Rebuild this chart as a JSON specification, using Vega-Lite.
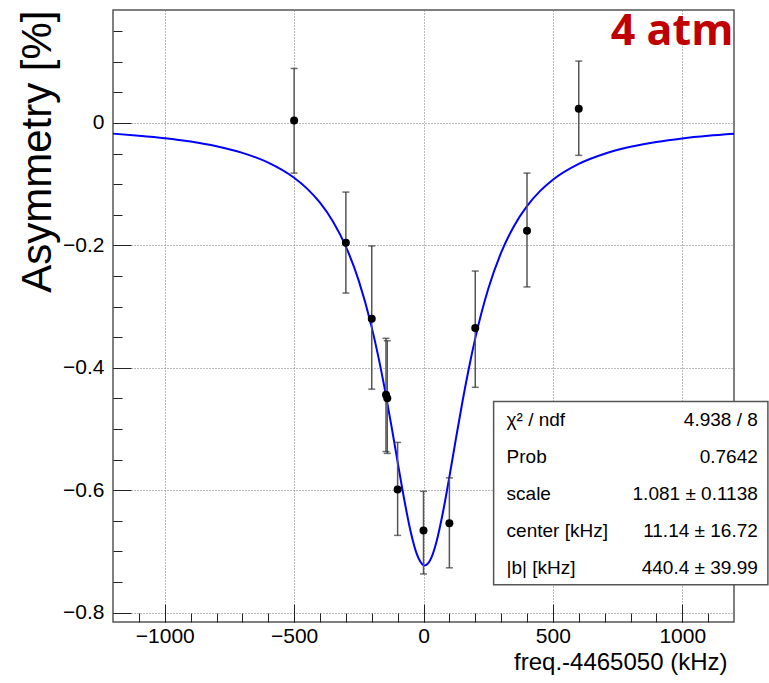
{
  "$schema": "https://vega.github.io/schema/vega-lite/v6.json",
  "width": 621,
  "height": 612,
  "autosize": {"type": "none"},
  "padding": {"left": 113, "top": 10, "right": 35, "bottom": 61},
  "background": "white",
  "config": {
    "view": {"stroke": "#555", "strokeWidth": 1.5},
    "font": "Liberation Sans",
    "axis": {"domain": false, "labelFont": "Liberation Sans", "titleFont": "Liberation Sans", "labelColor": "black", "titleColor": "black", "titleFontWeight": "normal", "tickColor": "#222", "tickWidth": 1}
  },
  "datasets": {
    "fit": [
      {"x": -1200, "y": -0.0175}, {"x": -1100, "y": -0.0208}, {"x": -1000, "y": -0.0249}, {"x": -900, "y": -0.0305},
      {"x": -800, "y": -0.0382}, {"x": -700, "y": -0.049}, {"x": -600, "y": -0.0649}, {"x": -500, "y": -0.0897},
      {"x": -450, "y": -0.1074}, {"x": -400, "y": -0.1304}, {"x": -350, "y": -0.161}, {"x": -300, "y": -0.2021},
      {"x": -250, "y": -0.2581}, {"x": -200, "y": -0.3341}, {"x": -175, "y": -0.381}, {"x": -150, "y": -0.4341},
      {"x": -125, "y": -0.4925}, {"x": -100, "y": -0.5539}, {"x": -75, "y": -0.6141}, {"x": -50, "y": -0.6671},
      {"x": -25, "y": -0.7054}, {"x": 0, "y": -0.7225}, {"x": 5, "y": -0.723}, {"x": 25, "y": -0.7151},
      {"x": 50, "y": -0.6846}, {"x": 75, "y": -0.6366}, {"x": 100, "y": -0.5784}, {"x": 125, "y": -0.5168},
      {"x": 150, "y": -0.4569}, {"x": 175, "y": -0.4016}, {"x": 200, "y": -0.3521}, {"x": 250, "y": -0.2715},
      {"x": 300, "y": -0.212}, {"x": 350, "y": -0.1683}, {"x": 400, "y": -0.1359}, {"x": 450, "y": -0.1115},
      {"x": 500, "y": -0.0928}, {"x": 600, "y": -0.0669}, {"x": 700, "y": -0.0503}, {"x": 800, "y": -0.0391},
      {"x": 900, "y": -0.0312}, {"x": 1000, "y": -0.0254}, {"x": 1100, "y": -0.0211}, {"x": 1200, "y": -0.0178}
    ],
    "pts": [
      {"x": -500, "y": 0.004, "lo": -0.082, "hi": 0.089},
      {"x": -300, "y": -0.196, "lo": -0.278, "hi": -0.113},
      {"x": -200, "y": -0.32, "lo": -0.435, "hi": -0.201},
      {"x": -145, "y": -0.444, "lo": -0.537, "hi": -0.352},
      {"x": -140, "y": -0.45, "lo": -0.54, "hi": -0.356},
      {"x": -100, "y": -0.599, "lo": -0.674, "hi": -0.522},
      {"x": 0, "y": -0.666, "lo": -0.737, "hi": -0.602},
      {"x": 100, "y": -0.654, "lo": -0.727, "hi": -0.58},
      {"x": 200, "y": -0.335, "lo": -0.432, "hi": -0.242},
      {"x": 400, "y": -0.176, "lo": -0.268, "hi": -0.082},
      {"x": 600, "y": 0.023, "lo": -0.053, "hi": 0.101}
    ],
    "stats": [
      {"row": 1, "name": "χ² / ndf", "value": "4.938 / 8"},
      {"row": 2, "name": "Prob", "value": "0.7642"},
      {"row": 3, "name": "scale", "value": "1.081 ± 0.1138"},
      {"row": 4, "name": "center [kHz]", "value": "11.14 ± 16.72"},
      {"row": 5, "name": "|b| [kHz]", "value": "440.4 ± 39.99"}
    ],
    "tag": [{"label": "4 atm"}]
  },
  "resolve": {"scale": {"y": "independent"}, "axis": {"x": "independent", "y": "independent"}},
  "layer": [
    {
      "data": {"name": "fit"},
      "mark": {"type": "line", "color": "#0000ff", "strokeWidth": 2, "interpolate": "monotone"},
      "encoding": {
        "x": {"field": "x", "type": "quantitative",
          "scale": {"domain": [-1200, 1200], "nice": false, "zero": false},
          "axis": {"orient": "bottom", "values": [-1000, -500, 0, 500, 1000], "format": "d", "grid": true, "gridColor": "#777", "gridDash": [1, 2], "gridWidth": 1,
            "tickSize": -18, "labelPadding": 21, "labelFontSize": 21, "labelFlush": false,
            "title": "freq.-4465050 (kHz)", "titleFontSize": 24, "titleAlign": "right", "titleBaseline": "alphabetic", "titleAnchor": "end", "titleX": 614, "titleY": 47}},
        "y": {"field": "y", "type": "quantitative",
          "scale": {"domain": [-0.8155, 0.1845], "nice": false, "zero": false},
          "axis": {"orient": "left", "values": [-0.8, -0.6, -0.4, -0.2, 0], "format": "~g", "grid": true, "gridColor": "#777", "gridDash": [1, 2], "gridWidth": 1,
            "tickSize": -18, "labelPadding": 27, "labelFontSize": 21, "labelFlush": false,
            "title": "Asymmetry [%]", "titleFontSize": 42, "titleAngle": -90, "titleAlign": "right", "titleBaseline": "alphabetic", "titleAnchor": "end", "titleX": -63, "titleY": 0}}
      }
    },
    {
      "data": {"name": "pts"},
      "mark": {"type": "rule", "color": "#555", "strokeWidth": 1.5},
      "encoding": {
        "x": {"field": "x", "type": "quantitative",
          "scale": {"domain": [-1200, 1200], "nice": false, "zero": false},
          "axis": {"orient": "bottom", "values": [-1100, -1000, -900, -800, -700, -600, -500, -400, -300, -200, -100, 0, 100, 200, 300, 400, 500, 600, 700, 800, 900, 1000, 1100], "labels": false, "grid": false, "tickSize": -9, "title": null}},
        "y": {"field": "lo", "type": "quantitative",
          "scale": {"domain": [-0.8155, 0.1845], "nice": false, "zero": false},
          "axis": {"orient": "left", "values": [-0.8, -0.75, -0.7, -0.65, -0.6, -0.55, -0.5, -0.45, -0.4, -0.35, -0.3, -0.25, -0.2, -0.15, -0.1, -0.05, 0, 0.05, 0.1, 0.15], "labels": false, "grid": false, "tickSize": -9, "title": null}},
        "y2": {"field": "hi"}
      }
    },
    {
      "data": {"name": "pts"},
      "mark": {"type": "tick", "orient": "horizontal", "color": "#333", "size": 7, "thickness": 1.5},
      "encoding": {
        "x": {"field": "x", "type": "quantitative", "scale": {"domain": [-1200, 1200], "nice": false, "zero": false}, "axis": null},
        "y": {"field": "lo", "type": "quantitative", "scale": {"domain": [-0.8155, 0.1845], "nice": false, "zero": false}, "axis": null}
      }
    },
    {
      "data": {"name": "pts"},
      "mark": {"type": "tick", "orient": "horizontal", "color": "#333", "size": 7, "thickness": 1.5},
      "encoding": {
        "x": {"field": "x", "type": "quantitative", "scale": {"domain": [-1200, 1200], "nice": false, "zero": false}, "axis": null},
        "y": {"field": "hi", "type": "quantitative", "scale": {"domain": [-0.8155, 0.1845], "nice": false, "zero": false}, "axis": null}
      }
    },
    {
      "data": {"name": "pts"},
      "mark": {"type": "point", "filled": true, "shape": "circle", "color": "black", "size": 64, "opacity": 1},
      "encoding": {
        "x": {"field": "x", "type": "quantitative", "scale": {"domain": [-1200, 1200], "nice": false, "zero": false}, "axis": null},
        "y": {"field": "y", "type": "quantitative", "scale": {"domain": [-0.8155, 0.1845], "nice": false, "zero": false}, "axis": null}
      }
    },
    {
      "data": {"values": [{}]},
      "mark": {"type": "rect", "fill": "white", "stroke": "#555", "strokeWidth": 1.5},
      "encoding": {
        "x": {"datum": 271, "type": "quantitative", "scale": {"domain": [-1200, 1200], "nice": false, "zero": false}, "axis": null},
        "x2": {"datum": 1331},
        "y": {"datum": 0.5, "type": "quantitative", "scale": {"domain": [-10.081, 6.459], "reverse": true, "nice": false, "zero": false}, "axis": null},
        "y2": {"datum": 5.45}
      }
    },
    {
      "data": {"name": "stats"},
      "mark": {"type": "text", "align": "left", "baseline": "middle", "fontSize": 19, "font": "Liberation Sans", "color": "black"},
      "encoding": {
        "x": {"datum": 321, "type": "quantitative", "scale": {"domain": [-1200, 1200], "nice": false, "zero": false}, "axis": null},
        "y": {"field": "row", "type": "quantitative", "scale": {"domain": [-10.081, 6.459], "reverse": true, "nice": false, "zero": false}, "axis": null},
        "text": {"field": "name"}
      }
    },
    {
      "data": {"name": "stats"},
      "mark": {"type": "text", "align": "right", "baseline": "middle", "fontSize": 19, "font": "Liberation Sans", "color": "black"},
      "encoding": {
        "x": {"datum": 1292, "type": "quantitative", "scale": {"domain": [-1200, 1200], "nice": false, "zero": false}, "axis": null},
        "y": {"field": "row", "type": "quantitative", "scale": {"domain": [-10.081, 6.459], "reverse": true, "nice": false, "zero": false}, "axis": null},
        "text": {"field": "value"}
      }
    },
    {
      "data": {"name": "tag"},
      "mark": {"type": "text", "align": "right", "baseline": "alphabetic", "fontSize": 43, "font": "Open Sans", "fontWeight": "bold", "color": "#c00000"},
      "encoding": {
        "x": {"datum": 1198, "type": "quantitative", "scale": {"domain": [-1200, 1200], "nice": false, "zero": false}, "axis": null},
        "y": {"datum": 0.127, "type": "quantitative", "scale": {"domain": [-0.8155, 0.1845], "nice": false, "zero": false}, "axis": null},
        "text": {"field": "label"}
      }
    }
  ]
}
